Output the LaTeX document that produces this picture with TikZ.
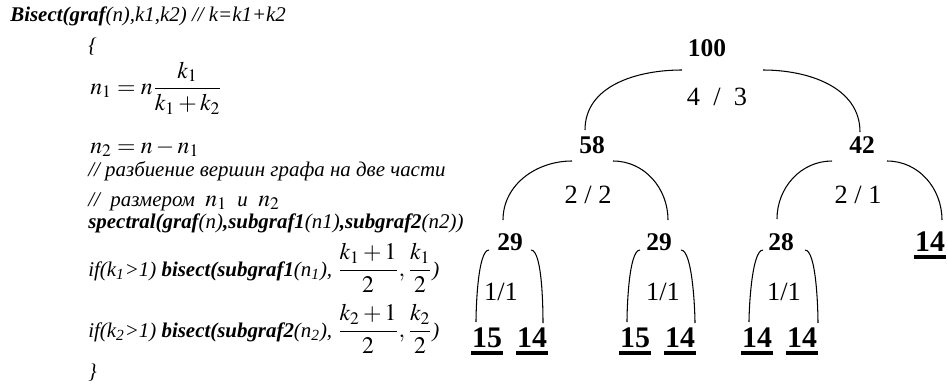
\documentclass[tikz,border=0pt]{standalone}
\usepackage{mathptmx}
\usepackage[no-math]{fontspec}
\setmainfont{Liberation Serif}
\usetikzlibrary{positioning}
\newcommand{\bfit}[1]{{\bfseries\itshape #1}}
\newcommand{\mathbig}[1]{{\fontsize{13.5}{15}\selectfont$\displaystyle #1$}}

\begin{document}
\begin{tikzpicture}[x=0.02cm,y=0.02cm,
    code/.style={anchor=base west,inner sep=0pt,font=\fontsize{11.9}{13}\selectfont\itshape},
    knot/.style={font=\fontsize{14.5}{17}\selectfont\bfseries,inner sep=2pt},
    leaf/.style={font=\fontsize{17}{20}\selectfont\bfseries,inner xsep=0.5pt,inner ysep=2.5pt},
    ratio/.style={font=\fontsize{15}{18}\selectfont},
    branch/.style={line width=0.6pt}]
  \useasboundingbox (0,0) rectangle (948,383);

  % pseudo code
  \node[code] (head) at (10,361) {\bfit{Bisect(graf}(n),k1,k2) // k=k1+k2};
  \node[code] (open) at (88,331) {\{};
  \node[code,anchor=west] (eqa) at (90,295) {\mathbig{n_1 = n\frac{k_1}{k_1+k_2}}};
  \node[code] (eqb) at (90,230) {\mathbig{n_2 = n - n_1}};
  \node[code] (rema) at (88,207) {// разбиение вершин графа на две части};
  \node[code] (remb) at (88,177) {//\ \ размером \ \mathbig{n_1} \ и \ \mathbig{n_2}};
  \node[code] (spec) at (88,155) {\bfit{spectral(graf}(n)\bfit{,subgraf1}(n1)\bfit{,subgraf2}(n2))};
  \node[code] (ifa) at (88,107) {if(k\textsubscript{1}>1) \bfit{bisect(subgraf1}(n\textsubscript{1}),
    \mathbig{\frac{k_1+1}{2},\frac{k_1}{2}})};
  \node[code] (ifb) at (88,46) {if(k\textsubscript{2}>1) \bfit{bisect(subgraf2}(n\textsubscript{2}),
    \mathbig{\frac{k_2+1}{2},\frac{k_2}{2}})};
  \node[code] (close) at (88,5) {\}};

  % bisection tree
  \node[knot] (n100) at (707,335) {100};
  \node[knot] (n58) at (592,238) {58};
  \node[knot] (n42) at (862,238) {42};
  \node[knot] (n29a) at (510,141) {29};
  \node[knot] (n29b) at (659,141) {29};
  \node[knot] (n28) at (781,141) {28};
  \node[leaf] (n14r) at (930,141) {14};
  \foreach \name/\x/\val in {la/487/15,lb/532/14,lc/635/15,ld/680/14,le/757/14,lf/802/14}
    \node[leaf] (\name) at (\x,45) {\val};
  \foreach \name in {la,lb,lc,ld,le,lf,n14r}
    \draw[line width=2.2pt] (\name.south west) -- (\name.south east);

  \node[ratio] (r43) at (717,286) {4\enspace/\enspace3};
  \node[ratio] (r22) at (588,188) {2 / 2};
  \node[ratio] (r21) at (858,188) {2 / 1};
  \node[ratio] (r11a) at (501,91) {1/1};
  \node[ratio] (r11b) at (663,91) {1/1};
  \node[ratio] (r11c) at (784,91) {1/1};

  \foreach \p/\c/\sx/\sy/\ex/\ey/\o/\l in {
    n100/n58/-25/-22/-7/15/180/1, n100/n42/56/-22/-2/13/0/1,
    n58/n29a/-20/-16/-7/22/180/1, n58/n29b/21/-16/9/22/0/1,
    n42/n28/-30/-16/-4/23/180/1, n42/n14r/25/-16/12/22/0/1,
    n29a/la/-21/-8/-11/16/180/0.4, n29a/lb/21/-8/11/15/0/0.4,
    n29b/lc/-19/-8/-8/16/180/0.4, n29b/ld/22/-8/15/15/0/0.4,
    n28/le/-18/-8/-8/16/180/0.4, n28/lf/24/-8/16/15/0/0.4}
    \draw[branch] ([shift={(\sx,\sy)}]\p.center) to[out=\o,in=90,looseness=\l] ([shift={(\ex,\ey)}]\c.center);
\end{tikzpicture}
\end{document}
